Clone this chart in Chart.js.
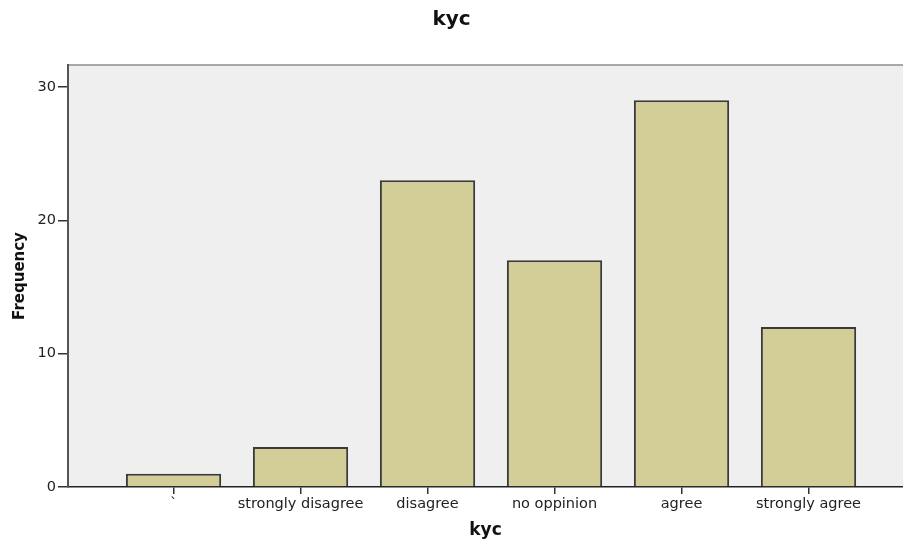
<!DOCTYPE html>
<html>
<head>
<meta charset="utf-8">
<script src="https://cdn.jsdelivr.net/npm/chart.js@4"></script>
<style>
  html, body { margin: 0; padding: 0; background: #ffffff; }
  #wrap { width: 903px; height: 544px; position: relative; }
</style>
</head>
<body>
<div id="wrap"><canvas id="c" width="903" height="544"></canvas></div>
<script>
const categories = ["`", "strongly disagree", "disagree", "no oppinion", "agree", "strongly agree"];
const frequencies = [1, 3, 23, 17, 29, 12];
const yTickValues = [0, 10, 20, 30];
const chartTitle = "kyc";
const xAxisTitle = "kyc";
const yAxisTitle = "Frequency";

const plotBg = {
  id: 'plotBg',
  beforeDraw(chart) {
    const { ctx, chartArea: a } = chart;
    ctx.save();
    ctx.fillStyle = '#efefef';
    ctx.fillRect(a.left, a.top, a.right - a.left, a.bottom - a.top);
    ctx.strokeStyle = '#8c8c8c';
    ctx.lineWidth = 1.5;
    ctx.beginPath();
    ctx.moveTo(a.left, a.top);
    ctx.lineTo(a.right, a.top);
    ctx.stroke();
    ctx.restore();
  }
};

new Chart(document.getElementById('c'), {
  type: 'bar',
  data: {
    datasets: [{
      data: categories.map((c, i) => ({ x: i, y: frequencies[i] })),
      backgroundColor: '#d3ce98',
      borderColor: '#3a3a3a',
      borderWidth: 2,
      barPercentage: 0.75,
      categoryPercentage: 1.0
    }]
  },
  options: {
    responsive: false,
    animation: false,
    layout: { padding: 0 },
    plugins: {
      legend: { display: false },
      tooltip: { enabled: false },
      title: {
        display: true,
        text: chartTitle,
        color: '#111',
        font: { family: 'DejaVu Sans', size: 20, weight: 'bold' },
        padding: { top: 8, bottom: 33 }
      }
    },
    scales: {
      x: {
        type: 'linear',
        min: -0.831,
        max: 5.744,
        offset: false,
        afterBuildTicks(scale) { scale.ticks = categories.map((c, i) => ({ value: i })); },
        afterFit(scale) { scale.height = 57; },
        ticks: {
          autoSkip: false,
          maxRotation: 0,
          padding: 2,
          color: '#222',
          font: { family: 'DejaVu Sans', size: 14.5 },
          callback: (v) => categories[v] !== undefined ? categories[v] : ''
        },
        grid: { offset: false, drawOnChartArea: false, drawTicks: true, tickLength: 7, color: '#333', lineWidth: 1.5 },
        border: { display: true, color: '#222', width: 1.5 },
        title: {
          display: true,
          text: xAxisTitle,
          color: '#111',
          font: { family: 'DejaVu Sans', size: 17, weight: 'bold' },
          padding: { top: 0, bottom: 3 }
        }
      },
      y: {
        min: 0,
        max: 31.65,
        afterBuildTicks(scale) { scale.ticks = yTickValues.map(v => ({ value: v })); },
        afterFit(scale) { scale.width = 68; },
        ticks: {
          padding: 2,
          color: '#222',
          font: { family: 'DejaVu Sans', size: 14.5 }
        },
        grid: { drawOnChartArea: false, drawTicks: true, tickLength: 10, color: '#333', lineWidth: 1.5 },
        border: { display: true, color: '#555', width: 2 },
        title: {
          display: true,
          text: yAxisTitle,
          color: '#111',
          font: { family: 'DejaVu Sans', size: 15, weight: 'bold' },
          padding: { top: 11, bottom: 0 }
        }
      }
    }
  },
  plugins: [plotBg]
});
</script>
</body>
</html>
